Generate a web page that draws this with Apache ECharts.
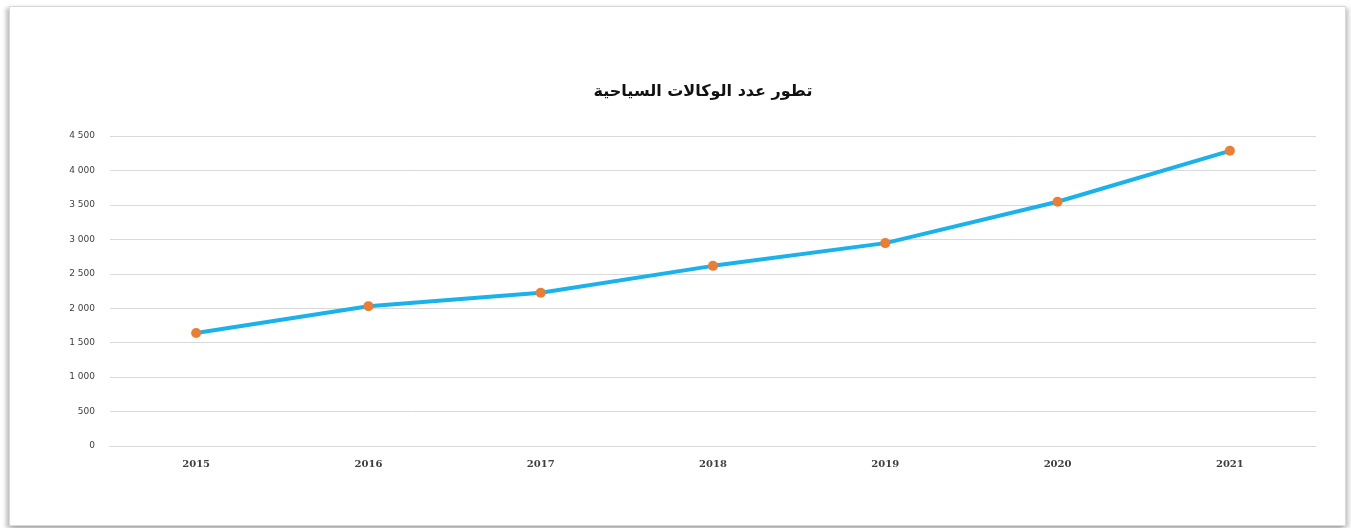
<!DOCTYPE html>
<html>
<head>
<meta charset="utf-8">
<script src="https://cdn.jsdelivr.net/npm/echarts@6/dist/echarts.min.js"></script>
<style>
html,body{margin:0;padding:0;background:#fff;}
#frame{position:absolute;left:9px;top:6px;width:1335px;height:518px;border:1px solid #d9d9d9;box-shadow:-3px 2px 4px rgba(0,0,0,0.25), 3px 2px 4px rgba(0,0,0,0.2);background:#fff;}
#chart{position:absolute;left:0;top:0;width:1351px;height:528px;}
</style>
</head>
<body>
<div id="frame"></div>
<div id="chart"></div>
<script>
const titleText = 'تطور عدد الوكالات السياحية';
const years = ['2015','2016','2017','2018','2019','2020','2021'];
const agencies = [1640, 2030, 2225, 2615, 2945, 3545, 4285];

const chart = echarts.init(document.getElementById('chart'));
chart.setOption({
  animation: false,
  title: {
    text: titleText,
    left: 698,
    textAlign: 'center',
    top: 79,
    textStyle: {fontFamily: 'DejaVu Sans', fontSize: 16, fontWeight: 'bold', color: '#111'}
  },
  grid: {left: 110, right: 35, top: 136, bottom: 82},
  xAxis: {
    type: 'category',
    data: years,
    boundaryGap: true,
    axisLine: {show: true, lineStyle: {color: '#d9d9d9', width: 1}},
    axisTick: {show: false},
    axisLabel: {margin: 13, fontFamily: 'DejaVu Serif', fontSize: 10, fontWeight: 'bold', color: '#404040'}
  },
  yAxis: {
    type: 'value',
    min: 0, max: 4500, interval: 500,
    axisLine: {show: false},
    axisTick: {show: false},
    splitLine: {lineStyle: {color: '#d9d9d9', width: 1}},
    axisLabel: {
      margin: 15,
      fontFamily: 'DejaVu Sans', fontSize: 9, color: '#404040',
      formatter: v => String(v).replace(/\B(?=(\d{3})+(?!\d))/g, ' ')
    }
  },
  series: [{
    type: 'line',
    data: agencies,
    symbol: 'circle',
    symbolSize: 10,
    lineStyle: {color: '#1BB1EB', width: 4},
    itemStyle: {color: '#ED7D31'}
  }]
});
</script>
</body>
</html>
